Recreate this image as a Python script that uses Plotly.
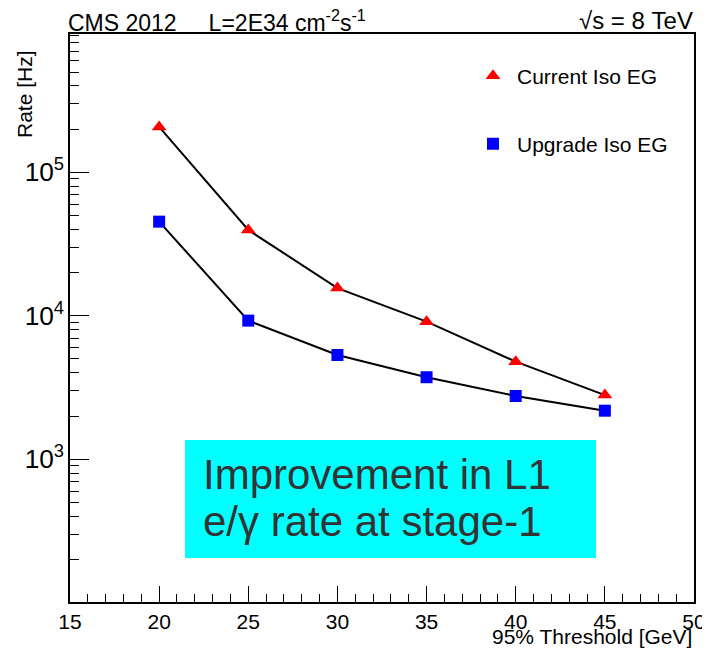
import plotly.graph_objects as go

thresholds = [20, 25, 30, 35, 40, 45]
current_iso_eg = [2.07e5, 3.96e4, 1.56e4, 9.1e3, 4.79e3, 2.8e3]
upgrade_iso_eg = [4.53e4, 9.25e3, 5.33e3, 3.73e3, 2.76e3, 2.18e3]

FONT = "Liberation Sans, Arial, Helvetica, sans-serif"

# page body has an 8px margin: work in screen pixels and convert
OFF = 8
W, H = 710 - OFF, 656 - OFF
X0, X1, Y0, Y1 = 70, 694, 34, 602          # plot frame in screen pixels
L, R, T, B = X0 - OFF, 710 - X1, Y0 - OFF, 656 - Y1
PW, PH = X1 - X0, Y1 - Y0


def px(x):
    return (x - X0) / PW


def py(y):
    return (Y1 - y) / PH


fig = go.Figure()

# connecting lines
fig.add_trace(go.Scatter(x=thresholds, y=current_iso_eg, mode="lines",
                         line=dict(color="black", width=2), showlegend=False,
                         hoverinfo="skip"))
fig.add_trace(go.Scatter(x=thresholds, y=upgrade_iso_eg, mode="lines",
                         line=dict(color="black", width=2), showlegend=False,
                         hoverinfo="skip"))
# markers
fig.add_trace(go.Scatter(x=thresholds, y=current_iso_eg, mode="markers",
                         name="Current Iso EG",
                         marker=dict(symbol="triangle-up", size=13, color="#ff0000",
                                     line=dict(width=0)),
                         legend="legend"))
fig.add_trace(go.Scatter(x=thresholds, y=upgrade_iso_eg, mode="markers",
                         name="Upgrade Iso EG",
                         marker=dict(symbol="square", size=12, color="#0000ff",
                                     line=dict(width=0)),
                         legend="legend2"))

legend_common = dict(font=dict(family=FONT, size=21, color="black"),
                     bgcolor="rgba(0,0,0,0)", borderwidth=0, itemwidth=38,
                     xanchor="left", yanchor="middle")

fig.update_layout(
    width=W, height=H,
    margin=dict(l=L, r=R, t=T, b=B, autoexpand=False),
    paper_bgcolor="white", plot_bgcolor="white",
    font=dict(family=FONT, size=21, color="black"),
    legend=dict(x=px(469), y=py(76), **legend_common),
    legend2=dict(x=px(469), y=py(144), **legend_common),
    xaxis=dict(range=[15, 50], tick0=15, dtick=5, ticks="inside", ticklen=16,
               tickwidth=1, tickcolor="black", showgrid=False, zeroline=False,
               showline=True, linecolor="black", linewidth=1.5, mirror=True,
               automargin=False,
               tickfont=dict(family=FONT, size=21),
               minor=dict(dtick=1, ticks="inside", ticklen=8, tickcolor="black",
                          showgrid=False)),
    yaxis=dict(type="log", range=[2.005, 5.964], dtick=1, ticks="inside", ticklen=19,
               tickwidth=1, tickcolor="black", showgrid=False, zeroline=False,
               showline=True, linecolor="black", linewidth=1.5, mirror=True,
               automargin=False,
               exponentformat="power", showexponent="all",
               tickfont=dict(family=FONT, size=21),
               minor=dict(dtick="D1", ticks="inside", ticklen=9, tickcolor="black",
                          showgrid=False)),
    shapes=[dict(type="rect", xref="paper", yref="paper",
                 x0=px(185), x1=px(596), y0=py(558), y1=py(440),
                 fillcolor="#00ffff", line=dict(width=0), layer="above")],
)

annotations = [
    dict(text="CMS 2012\u00a0\u00a0\u00a0\u00a0\u00a0L=2E34 cm<sup>-2</sup>s<sup>-1</sup>",
         x=px(66), y=py(21), xanchor="left", yanchor="middle", font=dict(size=23)),
    dict(text="\u221as\u00a0=\u00a08\u00a0TeV", x=px(695), y=py(21), xanchor="right",
         yanchor="middle", font=dict(size=24)),
    dict(text="95% Threshold [GeV]", x=px(694), y=py(636), xanchor="right",
         yanchor="middle", font=dict(size=21)),
    dict(text="Rate [Hz]", x=px(25), y=py(48), xanchor="center", yanchor="top",
         textangle=-90, font=dict(size=21)),
    dict(text="Improvement in L1", x=px(201), y=py(474), xanchor="left",
         yanchor="middle", font=dict(size=42, color="#333333")),
    dict(text="e/\u03b3 rate at stage-1", x=px(201), y=py(521), xanchor="left",
         yanchor="middle", font=dict(size=42, color="#333333")),
]
for a in annotations:
    a.update(xref="paper", yref="paper", showarrow=False)
fig.update_layout(annotations=annotations)

fig.write_html("out.html")
